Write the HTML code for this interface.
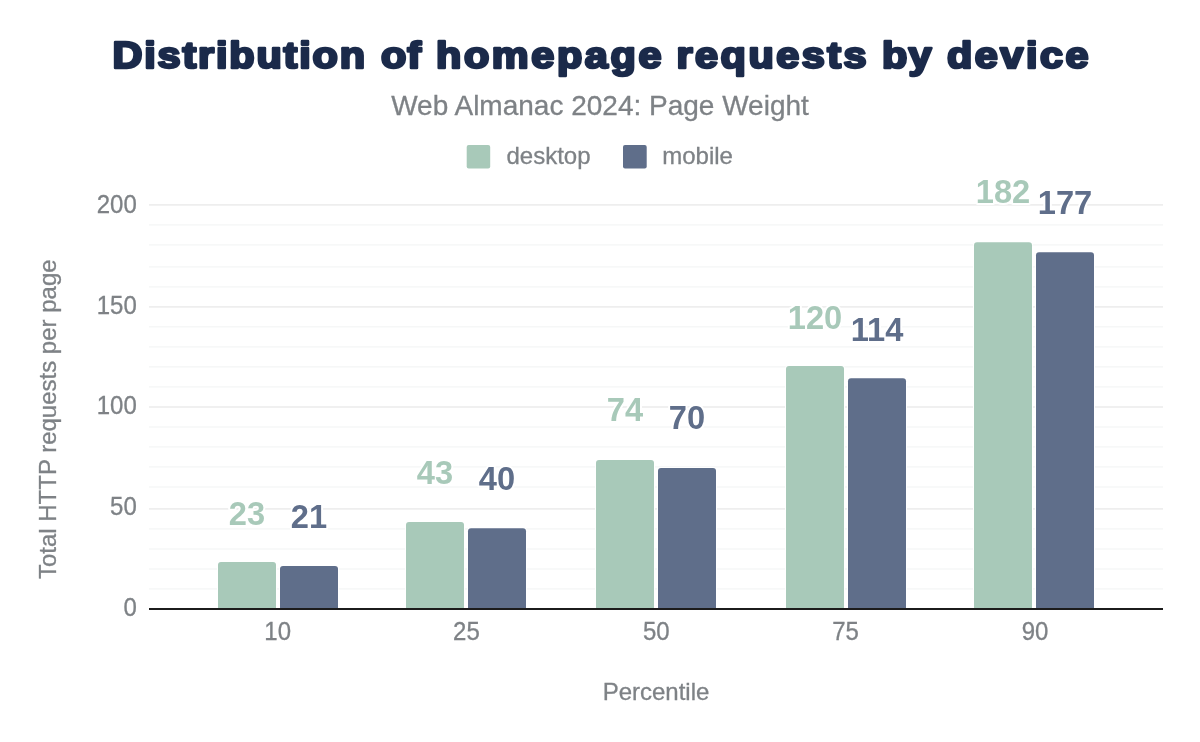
<!DOCTYPE html>
<html><head><meta charset="utf-8"><style>
html,body{margin:0;padding:0;background:#fff;}
body{width:1200px;height:742px;overflow:hidden;}
svg{display:block;will-change:transform;}
.ax{font-family:"Liberation Sans",Arial,sans-serif;font-size:24px;fill:#7e8286;stroke:#7e8286;stroke-width:0.3px;}
.dl{font-family:"Liberation Sans",Arial,sans-serif;font-size:33.5px;font-weight:700;stroke:#fff;stroke-width:4px;paint-order:stroke;stroke-linejoin:round;}
.title{font-family:"Liberation Sans",Arial,sans-serif;font-size:37px;font-weight:700;fill:#1b2a4a;stroke:#1b2a4a;stroke-width:2.6px;stroke-linejoin:round;}
.sub{font-family:"Liberation Sans",Arial,sans-serif;font-size:28px;fill:#7e8286;stroke:#7e8286;stroke-width:0.3px;}
</style></head><body>
<svg width="1200" height="742" viewBox="0 0 1200 742">
<rect width="1200" height="742" fill="#fff"/>
<text transform="scale(1.12,1)" class="title" y="67.9"><tspan x="100.45" y="67.9" textLength="225.45" lengthAdjust="spacing">Distribution</tspan> <tspan x="340.18" y="67.9" textLength="35.71" lengthAdjust="spacing">of</tspan> <tspan x="389.29" y="67.9" textLength="201.34" lengthAdjust="spacing">homepage</tspan> <tspan x="604.02" y="67.9" textLength="169.64" lengthAdjust="spacing">requests</tspan> <tspan x="787.50" y="67.9" textLength="44.20" lengthAdjust="spacing">by</tspan> <tspan x="845.54" y="67.9" textLength="126.34" lengthAdjust="spacing">device</tspan></text>
<text x="600" y="114.7" text-anchor="middle" class="sub">Web Almanac 2024: Page Weight</text>
<rect x="466.7" y="144.9" width="23.5" height="23.5" rx="2" fill="#a8c9b9"/>
<text x="506.5" y="164.2" class="ax">desktop</text>
<rect x="623" y="144.9" width="23.7" height="23.5" rx="2" fill="#5f6e8a"/>
<text x="662.2" y="164.2" class="ax">mobile</text>
<rect x="149" y="588.15" width="1014" height="1.5" fill="#f6f7f7"/>
<rect x="149" y="568.25" width="1014" height="1.5" fill="#f6f7f7"/>
<rect x="149" y="548.25" width="1014" height="1.5" fill="#f6f7f7"/>
<rect x="149" y="528.15" width="1014" height="1.5" fill="#f6f7f7"/>
<rect x="149" y="508.15" width="1014" height="1.5" fill="#ececec"/>
<rect x="149" y="486.25" width="1014" height="1.5" fill="#f6f7f7"/>
<rect x="149" y="466.15" width="1014" height="1.5" fill="#f6f7f7"/>
<rect x="149" y="446.15" width="1014" height="1.5" fill="#f6f7f7"/>
<rect x="149" y="426.25" width="1014" height="1.5" fill="#f6f7f7"/>
<rect x="149" y="406.25" width="1014" height="1.5" fill="#ececec"/>
<rect x="149" y="386.15" width="1014" height="1.5" fill="#f6f7f7"/>
<rect x="149" y="366.10" width="1014" height="1.5" fill="#f6f7f7"/>
<rect x="149" y="346.15" width="1014" height="1.5" fill="#f6f7f7"/>
<rect x="149" y="326.05" width="1014" height="1.5" fill="#f6f7f7"/>
<rect x="149" y="306.15" width="1014" height="1.5" fill="#ececec"/>
<rect x="149" y="286.15" width="1014" height="1.5" fill="#f6f7f7"/>
<rect x="149" y="266.15" width="1014" height="1.5" fill="#f6f7f7"/>
<rect x="149" y="244.15" width="1014" height="1.5" fill="#f6f7f7"/>
<rect x="149" y="224.15" width="1014" height="1.5" fill="#f6f7f7"/>
<rect x="149" y="204.15" width="1014" height="1.5" fill="#ececec"/>
<text transform="translate(136.8,615.8) scale(1,1.045)" text-anchor="end" class="ax">0</text>
<text transform="translate(136.8,515.1) scale(1,1.045)" text-anchor="end" class="ax">50</text>
<text transform="translate(136.8,414.0) scale(1,1.045)" text-anchor="end" class="ax">100</text>
<text transform="translate(136.8,313.9) scale(1,1.045)" text-anchor="end" class="ax">150</text>
<text transform="translate(136.8,213.1) scale(1,1.045)" text-anchor="end" class="ax">200</text>
<path d="M218 609 L218 565.00 Q218 562.00 221 562.00 L273 562.00 Q276 562.00 276 565.00 L276 609 Z" fill="#a8c9b9" stroke="#fff" stroke-width="2" paint-order="stroke"/>
<path d="M280 609 L280 569.10 Q280 566.10 283 566.10 L335 566.10 Q338 566.10 338 569.10 L338 609 Z" fill="#5f6e8a" stroke="#fff" stroke-width="2" paint-order="stroke"/>
<path d="M406 609 L406 525.10 Q406 522.10 409 522.10 L461 522.10 Q464 522.10 464 525.10 L464 609 Z" fill="#a8c9b9" stroke="#fff" stroke-width="2" paint-order="stroke"/>
<path d="M468 609 L468 531.20 Q468 528.20 471 528.20 L523 528.20 Q526 528.20 526 531.20 L526 609 Z" fill="#5f6e8a" stroke="#fff" stroke-width="2" paint-order="stroke"/>
<path d="M596 609 L596 463.05 Q596 460.05 599 460.05 L651 460.05 Q654 460.05 654 463.05 L654 609 Z" fill="#a8c9b9" stroke="#fff" stroke-width="2" paint-order="stroke"/>
<path d="M658 609 L658 471.07 Q658 468.07 661 468.07 L713 468.07 Q716 468.07 716 471.07 L716 609 Z" fill="#5f6e8a" stroke="#fff" stroke-width="2" paint-order="stroke"/>
<path d="M786 609 L786 369.10 Q786 366.10 789 366.10 L841 366.10 Q844 366.10 844 369.10 L844 609 Z" fill="#a8c9b9" stroke="#fff" stroke-width="2" paint-order="stroke"/>
<path d="M848 609 L848 381.13 Q848 378.13 851 378.13 L903 378.13 Q906 378.13 906 381.13 L906 609 Z" fill="#5f6e8a" stroke="#fff" stroke-width="2" paint-order="stroke"/>
<path d="M974 609 L974 245.20 Q974 242.20 977 242.20 L1029 242.20 Q1032 242.20 1032 245.20 L1032 609 Z" fill="#a8c9b9" stroke="#fff" stroke-width="2" paint-order="stroke"/>
<path d="M1036 609 L1036 255.19 Q1036 252.19 1039 252.19 L1091 252.19 Q1094 252.19 1094 255.19 L1094 609 Z" fill="#5f6e8a" stroke="#fff" stroke-width="2" paint-order="stroke"/>
<rect x="149" y="608" width="1014" height="2" fill="#1c1c1c"/>
<text transform="translate(247,524.5) scale(0.975,1)" text-anchor="middle" class="dl" fill="#a8c9b9">23</text>
<text transform="translate(309,528.2) scale(0.975,1)" text-anchor="middle" class="dl" fill="#5f6e8a">21</text>
<text transform="translate(435,484.1) scale(0.975,1)" text-anchor="middle" class="dl" fill="#a8c9b9">43</text>
<text transform="translate(497,490.25) scale(0.975,1)" text-anchor="middle" class="dl" fill="#5f6e8a">40</text>
<text transform="translate(625,420.9) scale(0.975,1)" text-anchor="middle" class="dl" fill="#a8c9b9">74</text>
<text transform="translate(687,429.1) scale(0.975,1)" text-anchor="middle" class="dl" fill="#5f6e8a">70</text>
<text transform="translate(815,329.1) scale(0.975,1)" text-anchor="middle" class="dl" fill="#a8c9b9">120</text>
<text transform="translate(877,340.7) scale(0.975,1)" text-anchor="middle" class="dl" fill="#5f6e8a">114</text>
<text transform="translate(1003,202.7) scale(0.975,1)" text-anchor="middle" class="dl" fill="#a8c9b9">182</text>
<text transform="translate(1065,213.9) scale(0.975,1)" text-anchor="middle" class="dl" fill="#5f6e8a">177</text>
<text transform="translate(277.7,640) scale(1,1.045)" text-anchor="middle" class="ax">10</text>
<text transform="translate(466.45,640) scale(1,1.045)" text-anchor="middle" class="ax">25</text>
<text transform="translate(656.25,640) scale(1,1.045)" text-anchor="middle" class="ax">50</text>
<text transform="translate(845.5,640) scale(1,1.045)" text-anchor="middle" class="ax">75</text>
<text transform="translate(1035.1,640) scale(1,1.045)" text-anchor="middle" class="ax">90</text>
<text x="656" y="699.8" text-anchor="middle" class="ax">Percentile</text>
<text transform="translate(56,419.25) rotate(-90)" text-anchor="middle" class="ax">Total HTTP requests per page</text>
</svg>
</body></html>
